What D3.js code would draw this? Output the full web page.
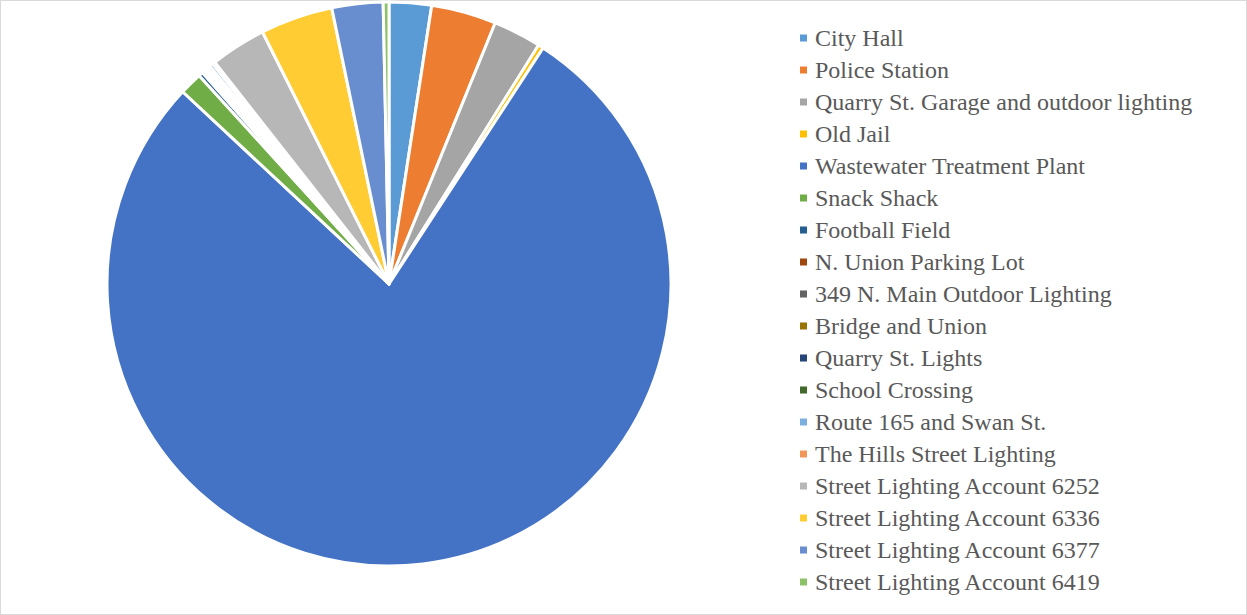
<!DOCTYPE html>
<html>
<head>
<meta charset="utf-8">
<script src="https://cdn.jsdelivr.net/npm/d3@7"></script>
<style>
  body { margin: 0; background: #fff; }
  svg { display: block; }
</style>
</head>
<body>
<svg id="chart" width="1247" height="615"></svg>
<script>
// share of total use (percent)
var names = [
  "City Hall", "Police Station", "Quarry St. Garage and outdoor lighting", "Old Jail",
  "Wastewater Treatment Plant", "Snack Shack", "Football Field", "N. Union Parking Lot",
  "349 N. Main Outdoor Lighting", "Bridge and Union", "Quarry St. Lights", "School Crossing",
  "Route 165 and Swan St.", "The Hills Street Lighting", "Street Lighting Account 6252",
  "Street Lighting Account 6336", "Street Lighting Account 6377", "Street Lighting Account 6419"
];
var values = [2.42, 3.72, 2.75, 0.30, 77.6, 1.30, 0.25, 0.12, 0.12, 0.10, 0.12, 0.10, 0.20, 0.15, 3.19, 4.14, 2.92, 0.33];
var colors = [
  "#5B9BD5", "#ED7D31", "#A5A5A5", "#FFC000", "#4472C4", "#70AD47",
  "#255E91", "#9E480E", "#636363", "#997300", "#264478", "#43682B",
  "#7CAFDD", "#F1975A", "#B7B7B7", "#FFCD33", "#698ED0", "#8CC168"
];

var width = 1247, height = 615;
var svg = d3.select("#chart");

// outer frame
svg.append("rect")
  .attr("x", 0.5).attr("y", 0.5)
  .attr("width", width - 1).attr("height", height - 1)
  .attr("fill", "#fff").attr("stroke", "#D9D9D9");

var cx = 389, cy = 284, radius = 282;

var data = names.map(function(n, i){ return {name: n, value: values[i], color: colors[i]}; });

var pie = d3.pie().sort(null).value(function(d){ return d.value; });
var arc = d3.arc().innerRadius(0).outerRadius(radius);

var g = svg.append("g").attr("transform", "translate(" + cx + "," + cy + ")");
g.selectAll("path")
  .data(pie(data))
  .enter().append("path")
  .attr("d", arc)
  .attr("fill", function(d){ return d.data.color; })
  .attr("stroke", "#fff")
  .attr("stroke-width", 3)
  .attr("stroke-linejoin", "round");

// legend
var legend = svg.append("g").attr("transform", "translate(800,38)");
var rowH = 32;
var items = legend.selectAll("g.item")
  .data(data)
  .enter().append("g")
  .attr("class", "item")
  .attr("transform", function(d, i){ return "translate(0," + (i * rowH) + ")"; });

items.append("rect")
  .attr("x", 0).attr("y", -3.5)
  .attr("width", 7).attr("height", 7)
  .attr("fill", function(d){ return d.color; });

items.append("text")
  .attr("x", 15).attr("y", 8)
  .attr("font-family", "'Liberation Serif', 'Times New Roman', serif")
  .attr("font-size", "24px")
  .attr("fill", "#595959")
  .text(function(d){ return d.name; });
</script>
</body>
</html>
